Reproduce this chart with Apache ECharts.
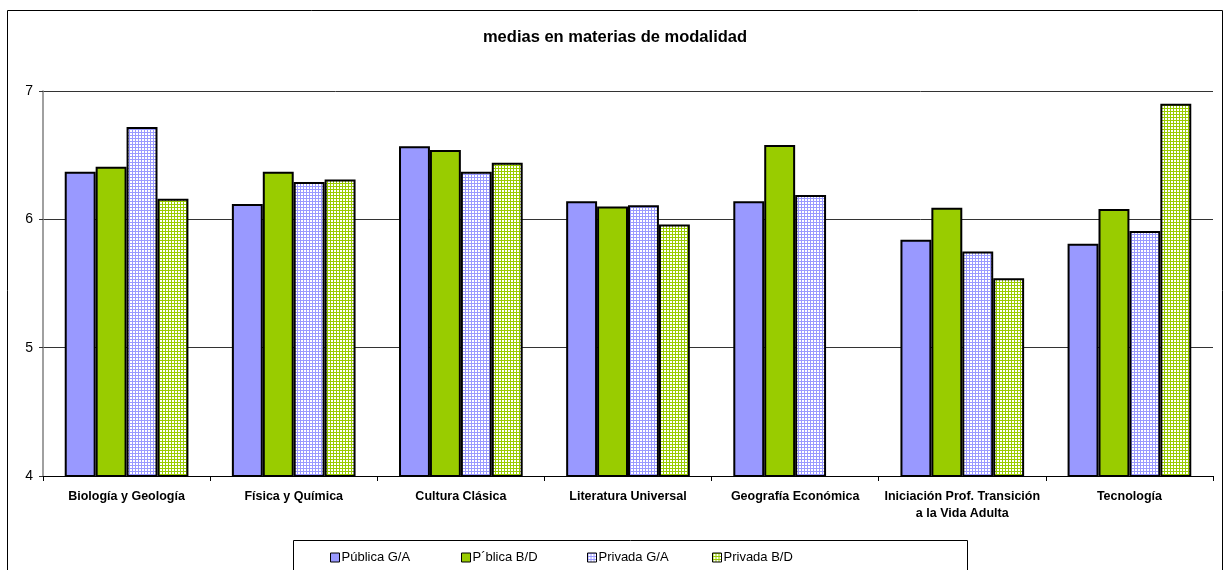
<!DOCTYPE html>
<html>
<head>
<meta charset="utf-8">
<script src="https://cdn.jsdelivr.net/npm/echarts@6/dist/echarts.min.js"></script>
<style>
  html, body { margin: 0; padding: 0; background: #fff; }
  #chart { width: 1230px; height: 570px; }
</style>
</head>
<body>
<div id="chart"></div>
<script>
// categorías (eje x)
const categories = [
  'Biología y Geología',
  'Física y Química',
  'Cultura Clásica',
  'Literatura Universal',
  'Geografía Económica',
  'Iniciación Prof. Transición\na la Vida Adulta',
  'Tecnología'
];

const seriesNames = ['Pública G/A', 'P´blica B/D', 'Privada G/A', 'Privada B/D'];

// valores
const publicaGA = [6.37, 6.12, 6.57, 6.14, 6.14, 5.84, 5.81];
const publicaBD = [6.41, 6.37, 6.54, 6.10, 6.58, 6.09, 6.08];
const privadaGA = [6.72, 6.29, 6.37, 6.11, 6.19, 5.75, 5.91];
const privadaBD = [6.16, 6.31, 6.44, 5.96, null, 5.54, 6.90];

const yTicks = [4, 5, 6, 7];

// trama cuadriculada para las series privadas
function gridPattern(color) {
  const c = document.createElement('canvas');
  c.width = 3;
  c.height = 3;
  const ctx = c.getContext('2d');
  ctx.fillStyle = '#ffffff';
  ctx.fillRect(0, 0, 3, 3);
  ctx.fillStyle = color;
  ctx.fillRect(0, 0, 3, 1);
  ctx.fillRect(0, 0, 1, 3);
  return { image: c, repeat: 'repeat' };
}

const colors = ['#9999ff', '#99cc00', gridPattern('#9999ff'), gridPattern('#99cc00')];
const values = [publicaGA, publicaBD, privadaGA, privadaBD];

const chart = echarts.init(document.getElementById('chart'));

const font = 'Liberation Sans, Arial, sans-serif';
const legendLeft = [325, 456, 582, 707];

const option = {
  animation: false,
  textStyle: { fontFamily: font },
  title: {
    text: 'medias en materias de modalidad',
    left: 'center',
    top: 24,
    textStyle: { fontSize: 16.5, fontWeight: 'bold', color: '#000', fontFamily: font }
  },
  legend: seriesNames.map((n, i) => ({
    data: [n],
    left: legendLeft[i],
    top: 546,
    itemWidth: 9,
    itemHeight: 9,
    itemGap: 4,
    icon: 'rect',
    itemStyle: { borderColor: '#000', borderWidth: 1 },
    textStyle: { fontSize: 13, color: '#000', fontFamily: font, padding: [0, 0, 0, -3] }
  })),
  graphic: [
    {
      type: 'rect',
      shape: { x: 7.5, y: 10.5, width: 1215, height: 580 },
      style: { fill: null, stroke: '#000', lineWidth: 1 },
      z: -1
    },
    {
      type: 'rect',
      shape: { x: 293.5, y: 540.5, width: 674, height: 60 },
      style: { fill: null, stroke: '#000', lineWidth: 1 },
      z: -1
    }
  ],
  grid: { left: 43, right: 17, top: 91, bottom: 94 },
  xAxis: {
    type: 'category',
    data: categories,
    axisLine: { lineStyle: { color: '#000', width: 1 } },
    axisTick: { show: true, length: 5, lineStyle: { color: '#000' } },
    axisLabel: {
      interval: 0,
      fontSize: 12.5,
      fontWeight: 'bold',
      color: '#000',
      margin: 12,
      lineHeight: 17,
      fontFamily: font
    }
  },
  yAxis: {
    type: 'value',
    min: yTicks[0],
    max: yTicks[yTicks.length - 1],
    interval: 1,
    axisLine: { show: true, lineStyle: { color: '#808080', width: 1.5 } },
    axisTick: { show: true, length: 4, lineStyle: { color: '#333' } },
    axisLabel: { fontSize: 14, color: '#000', margin: 10, fontFamily: font },
    splitLine: { lineStyle: { color: '#333', width: 1 } }
  },
  series: seriesNames.map((n, i) => ({
    name: n,
    type: 'bar',
    data: values[i],
    barGap: '0%',
    barCategoryGap: '26%',
    itemStyle: { color: colors[i], borderColor: '#000', borderWidth: 2 }
  }))
};

chart.setOption(option);
</script>
</body>
</html>
